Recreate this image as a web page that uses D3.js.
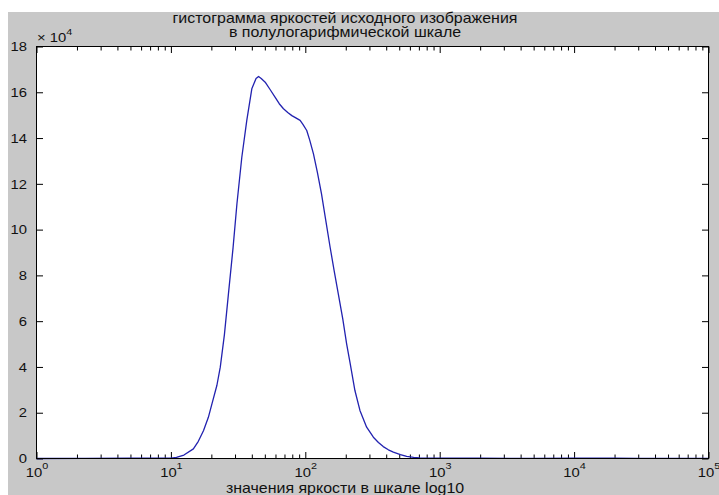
<!DOCTYPE html>
<html>
<head>
<meta charset="utf-8">
<script src="https://cdn.jsdelivr.net/npm/d3@7"></script>
<style>
  body { margin: 0; background: #fff; }
  svg { display: block; }
</style>
</head>
<body>
<svg id="chart" width="719" height="495"></svg>
<script>
// DATA SECTION

// brightness value (log axis) -> count, in units of 10^4
const brightness = [1, 2.3, 5, 10, 11, 12.5, 14.7, 16, 17.5, 19, 20.2, 22, 23.3, 25, 26.8, 29, 31,
  33.7, 36.7, 40, 43, 44.9, 47, 50.3, 55, 59.7, 64, 68.8, 74, 79.4, 85, 91.5, 96, 102.5,
  108, 115, 123, 132, 142, 153, 164, 176, 190, 203, 215, 234, 255, 286, 321, 350, 380,
  415, 452, 510, 568, 640, 713, 850, 1000, 2000, 5000, 10000, 15000, 20000, 30000, 50000, 100000];
const counts = [0, 0.005, 0.01, 0.02, 0.05, 0.15, 0.42, 0.75, 1.22, 1.8, 2.39, 3.2, 3.99, 5.4, 7.19, 9.2, 11.13,
  13.16, 14.77, 16.15, 16.6, 16.69, 16.6, 16.44, 16.1, 15.78, 15.5, 15.28, 15.12, 14.98, 14.88, 14.77, 14.6, 14.33,
  13.9, 13.31, 12.5, 11.56, 10.4, 9.23, 8.2, 7.19, 6.1, 5.01, 4.2, 2.97, 2.1, 1.37, 0.93, 0.7, 0.52,
  0.38, 0.28, 0.17, 0.09, 0.05, 0.03, 0.02, 0.015, 0.01, 0.008, 0.01, 0.015, 0.012, 0.008, 0.005, 0.003];

const xDecades = [1, 10, 100, 1000, 10000, 100000];
const xExponents = ['0', '1', '2', '3', '4', '5'];
const yTicks = [0, 2, 4, 6, 8, 10, 12, 14, 16, 18];
const yExponent = '4';

const titleLines = ['гистограмма яркостей исходного изображения', 'в полулогарифмической шкале'];
const xLabel = 'значения яркости в шкале log10';


// LAYOUT SECTION

const svg = d3.select('#chart');
const font = '"Liberation Sans", Arial, sans-serif';
const stretch = 1.14;   // the picture is a bit wider than tall
const pLeft = 36.5, pRight = 708.5, pTop = 46.5, pBottom = 458.5;

// figure background
svg.append('rect')
  .attr('x', 8).attr('y', 12)
  .attr('width', 711).attr('height', 483)
  .attr('fill', '#c8c8c8');

let x = d3.scaleLog().domain([1, 100000]).range([pLeft, pRight]);
let y = d3.scaleLinear().domain([0, 18]).range([pBottom, pTop]);

// plot area
svg.append('rect')
  .attr('x', pLeft).attr('y', pTop)
  .attr('width', pRight - pLeft).attr('height', pBottom - pTop)
  .attr('fill', '#fff');

// minor ticks 2..9 for each decade
let xMinor = [];
xDecades.slice(0, -1).forEach(d => {
  for (let k = 2; k <= 9; k++) xMinor.push(d * k);
});

function styleAxis(g) {
  g.select('.domain').remove();
  g.selectAll('.tick line').attr('stroke', '#000');
}

// x ticks, bottom and top, pointing inward
svg.append('g').attr('transform', `translate(0,${pBottom})`)
  .call(d3.axisBottom(x).tickValues(xDecades).tickSize(-6.5).tickFormat(''))
  .call(styleAxis);
svg.append('g').attr('transform', `translate(0,${pBottom})`)
  .call(d3.axisBottom(x).tickValues(xMinor).tickSize(-4).tickFormat(''))
  .call(styleAxis);
svg.append('g').attr('transform', `translate(0,${pTop})`)
  .call(d3.axisTop(x).tickValues(xDecades).tickSize(-6.5).tickFormat(''))
  .call(styleAxis);
svg.append('g').attr('transform', `translate(0,${pTop})`)
  .call(d3.axisTop(x).tickValues(xMinor).tickSize(-4).tickFormat(''))
  .call(styleAxis);

// y ticks, left and right
svg.append('g').attr('transform', `translate(${pLeft},0)`)
  .call(d3.axisLeft(y).tickValues(yTicks).tickSize(-6.5).tickFormat(''))
  .call(styleAxis);
svg.append('g').attr('transform', `translate(${pRight},0)`)
  .call(d3.axisRight(y).tickValues(yTicks).tickSize(-6.5).tickFormat(''))
  .call(styleAxis);

// the curve
let line = d3.line()
  .x((d, i) => x(brightness[i]))
  .y(d => y(d));

svg.append('path')
  .datum(counts)
  .attr('fill', 'none')
  .attr('stroke', '#2222b0')
  .attr('stroke-width', 1.3)
  .attr('stroke-linejoin', 'round')
  .attr('d', line);

// box
svg.append('rect')
  .attr('x', pLeft).attr('y', pTop)
  .attr('width', pRight - pLeft).attr('height', pBottom - pTop)
  .attr('fill', 'none')
  .attr('stroke', '#000')
  .attr('stroke-width', 1);


// TEXT SECTION

// text that is stretched horizontally like the source picture
function label(px, py, anchor, size) {
  return svg.append('text')
    .attr('transform', `translate(${px},${py}) scale(${stretch},1)`)
    .attr('text-anchor', anchor)
    .attr('font-family', font)
    .attr('font-size', size)
    .attr('fill', '#111');
}

// y tick labels
yTicks.forEach(v => {
  label(27, y(v) + 4.7, 'end', 13).text(v);
});

// x tick labels as 10^n
xDecades.forEach((d, i) => {
  let t = label(x(d) + 0.5, 476.5, 'middle', 13);
  t.append('tspan').text('10');
  t.append('tspan').attr('dy', -8).attr('font-size', 9.5).text(xExponents[i]);
});

// y multiplier
let m = label(37, 41.5, 'start', 13);
m.append('tspan').text('× 10');
m.append('tspan').attr('dy', -7).attr('font-size', 9.5).text(yExponent);

// title
titleLines.forEach((s, i) => {
  label(345, 22.5 + i * 14.8, 'middle', 14).text(s);
});

// x axis label
label(345, 492.5, 'middle', 14).text(xLabel);
</script>
</body>
</html>
